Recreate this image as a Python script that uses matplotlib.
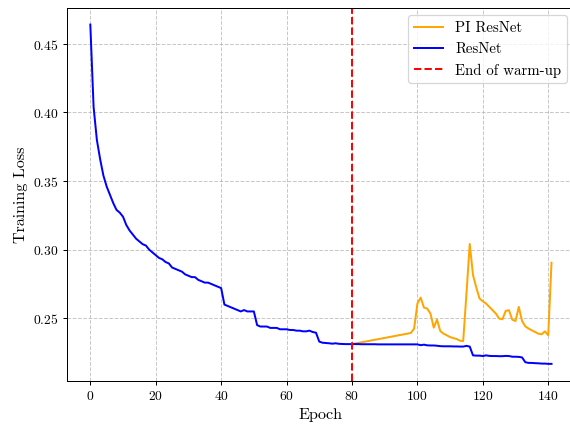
import numpy as np
import matplotlib
matplotlib.use("Agg")
import matplotlib.pyplot as plt

plt.rcParams.update({
    "font.family": "serif",
    "font.serif": ["cmr10", "DejaVu Serif"],
    "mathtext.fontset": "cm",
    "axes.formatter.use_mathtext": True,
    "axes.unicode_minus": False,
})

# ResNet training loss, one value per epoch (0..141)
resnet_loss = [
    0.464, 0.404, 0.380, 0.366, 0.354, 0.346, 0.340, 0.334, 0.329, 0.327,
    0.324, 0.318, 0.314, 0.311, 0.308, 0.306, 0.304, 0.303, 0.300, 0.298,
    0.296, 0.294, 0.293, 0.291, 0.290, 0.287, 0.286, 0.285, 0.284, 0.282,
    0.281, 0.280, 0.280, 0.278, 0.277, 0.276, 0.276, 0.275, 0.274, 0.273,
    0.272, 0.260, 0.259, 0.258, 0.257, 0.256, 0.255, 0.256, 0.255, 0.255,
    0.255, 0.245, 0.244, 0.244, 0.244, 0.243, 0.243, 0.243, 0.242, 0.242,
    0.242, 0.2415, 0.2415, 0.241, 0.241, 0.2405, 0.2405, 0.241, 0.240, 0.2395,
    0.233, 0.2322, 0.232, 0.2318, 0.2315, 0.2318, 0.2314, 0.2313, 0.2312, 0.2312,
    0.2312, 0.2312, 0.2312, 0.2311, 0.2311, 0.2311, 0.2311, 0.2311, 0.2310, 0.2310,
    0.2310, 0.2310, 0.2310, 0.2310, 0.2310, 0.2310, 0.2310, 0.2310, 0.2310, 0.2310,
    0.2310, 0.2304, 0.2308, 0.2303, 0.2302, 0.2302, 0.2300, 0.2297, 0.2296, 0.2296,
    0.2296, 0.2295, 0.2295, 0.2294, 0.2294, 0.2299, 0.2294, 0.2230, 0.2228, 0.2228,
    0.2225, 0.2230, 0.2226, 0.2225, 0.2225, 0.2224, 0.2224, 0.2226, 0.2225, 0.2220,
    0.2220, 0.2219, 0.2215, 0.2180, 0.2175, 0.2175, 0.2173, 0.2172, 0.2170, 0.2170,
    0.2168, 0.2168,
]
resnet_epochs = list(range(len(resnet_loss)))

# PI ResNet training loss (starts at the end of warm-up)
pi_epochs = [80] + list(range(98, 142))
pi_loss = [
    0.2312,
    0.2393, 0.2425, 0.2607, 0.2651, 0.2578, 0.2571, 0.2534, 0.2432, 0.2490, 0.2407,
    0.2388, 0.2376, 0.2363, 0.2356, 0.2349, 0.2337, 0.2334, 0.2680, 0.3042, 0.2815,
    0.2725, 0.2644, 0.2624, 0.2607, 0.2583, 0.2559, 0.2534, 0.2498, 0.2493, 0.2554,
    0.2559, 0.2490, 0.2480, 0.2583, 0.2480, 0.2441, 0.2425, 0.2412, 0.2400, 0.2388,
    0.2383, 0.2405, 0.2376, 0.2905,
]

warmup_end = 80

fig, ax = plt.subplots(figsize=(6.4, 4.8), dpi=89.0625)
ax.plot(pi_epochs, pi_loss, color="orange", lw=1.6, label="PI ResNet")
ax.plot(resnet_epochs, resnet_loss, color="blue", lw=1.6, label="ResNet")
ax.axvline(warmup_end, color="red", linestyle="--", lw=1.6, label="End of warm-up")

ax.set_xlabel("Epoch", fontsize=13)
ax.set_ylabel("Training Loss", fontsize=13)
ax.tick_params(labelsize=11)
ax.grid(True, linestyle="--", color="#b0b0b0", alpha=0.7)
ax.legend(loc="upper right", fontsize=12)

# the original figure was cropped just inside the right spine
ax.spines["right"].set_visible(False)
fig.subplots_adjust(left=0.118, right=1.008, top=0.981, bottom=0.108)
plt.savefig("out.png", dpi=89.0625)
